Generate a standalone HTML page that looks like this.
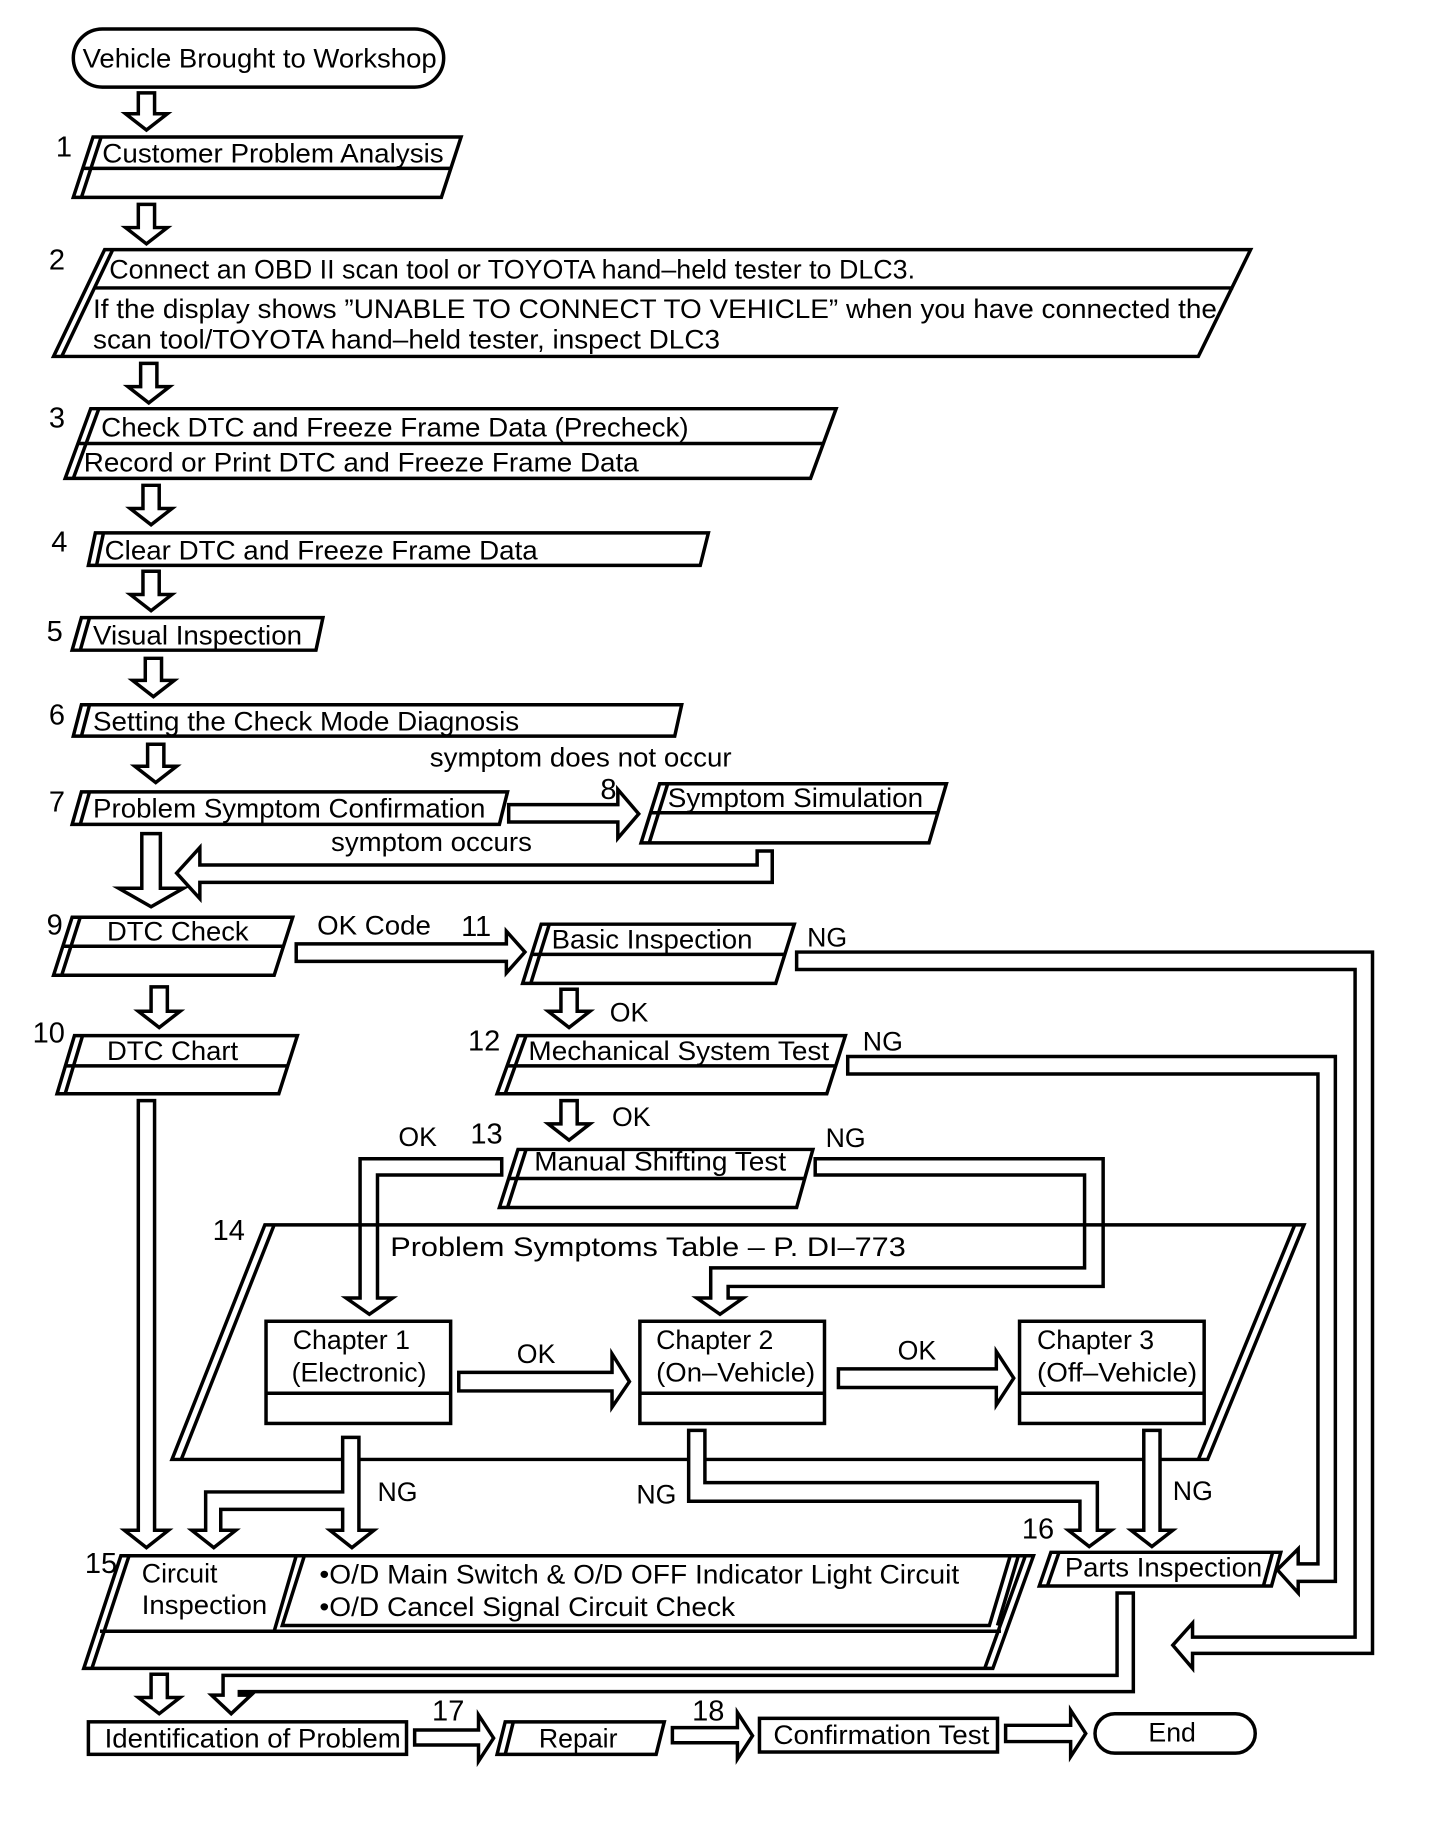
<!DOCTYPE html>
<html><head><meta charset="utf-8"><style>
html,body{margin:0;padding:0;background:#fff}
svg{display:block}
text{font-family:"Liberation Sans",sans-serif;font-size:23px;fill:#000}
.n{font-size:25px}
.s{fill:#fff;stroke:#000;stroke-width:3;stroke-linejoin:miter}
.l{fill:none;stroke:#000;stroke-width:3}
</style></head><body>
<svg width="1440" height="1824" viewBox="0 0 1240 1571" xmlns="http://www.w3.org/2000/svg">
<rect width="1240" height="1571" fill="#fff"/>
<rect class="s" x="63" y="25" width="319" height="50" rx="25"/>
<text x="71" y="58" textLength="305" lengthAdjust="spacingAndGlyphs">Vehicle Brought to Workshop</text>
<polygon class="s" points="119,80 133,80 133,98 144,98 126,112 108,98 119,98"/>
<text class="n" x="48" y="135">1</text>
<polygon class="s" points="80,118 397,118 380,170 63,170"/>
<line class="l" x1="87" y1="118" x2="70" y2="170"/>
<line class="l" x1="72" y1="145" x2="388" y2="145"/>
<text x="88" y="140" textLength="294" lengthAdjust="spacingAndGlyphs">Customer Problem Analysis</text>
<polygon class="s" points="119,176 133,176 133,196 144,196 126,210 108,196 119,196"/>
<text class="n" x="42" y="232">2</text>
<polygon class="s" points="90,215 1077,215 1032,307 46,307"/>
<line class="l" x1="97" y1="215" x2="53" y2="307"/>
<line class="l" x1="82" y1="248" x2="1062" y2="248"/>
<text x="94" y="240" textLength="694" lengthAdjust="spacingAndGlyphs">Connect an OBD II scan tool or TOYOTA hand–held tester to DLC3.</text>
<text x="80" y="274" textLength="968" lengthAdjust="spacingAndGlyphs">If the display shows ”UNABLE TO CONNECT TO VEHICLE” when you have connected the</text>
<text x="80" y="300" textLength="540" lengthAdjust="spacingAndGlyphs">scan tool/TOYOTA hand–held tester, inspect DLC3</text>
<polygon class="s" points="121,313 135,313 135,333 146,333 128,347 110,333 121,333"/>
<text class="n" x="42" y="368">3</text>
<polygon class="s" points="78,352 720,352 698,412 56,412"/>
<line class="l" x1="85" y1="352" x2="63" y2="412"/>
<line class="l" x1="68" y1="382" x2="709" y2="382"/>
<text x="87" y="376" textLength="506" lengthAdjust="spacingAndGlyphs">Check DTC and Freeze Frame Data (Precheck)</text>
<text x="72" y="406" textLength="478" lengthAdjust="spacingAndGlyphs">Record or Print DTC and Freeze Frame Data</text>
<polygon class="s" points="123,418 137,418 137,438 148,438 130,452 112,438 123,438"/>
<text class="n" x="44" y="475">4</text>
<polygon class="s" points="82,459 610,459 603,487 76,487"/>
<line class="l" x1="89" y1="459" x2="83" y2="487"/>
<text x="90" y="482" textLength="373" lengthAdjust="spacingAndGlyphs">Clear DTC and Freeze Frame Data</text>
<polygon class="s" points="123,492 137,492 137,512 148,512 130,526 112,512 123,512"/>
<text class="n" x="40" y="552">5</text>
<polygon class="s" points="70,532 278,532 272,560 62,560"/>
<line class="l" x1="77" y1="532" x2="69" y2="560"/>
<text x="80" y="555" textLength="180" lengthAdjust="spacingAndGlyphs">Visual Inspection</text>
<polygon class="s" points="125,567 139,567 139,586 150,586 132,600 114,586 125,586"/>
<text class="n" x="42" y="624">6</text>
<polygon class="s" points="70,607 587,607 581,634 63,634"/>
<line class="l" x1="77" y1="607" x2="70" y2="634"/>
<text x="80" y="629" textLength="367" lengthAdjust="spacingAndGlyphs">Setting the Check Mode Diagnosis</text>
<polygon class="s" points="127,641 141,641 141,660 152,660 134,674 116,660 127,660"/>
<text x="370" y="660" textLength="260" lengthAdjust="spacingAndGlyphs">symptom does not occur</text>
<text class="n" x="42" y="699">7</text>
<polygon class="s" points="70,682 437,682 430,710 62,710"/>
<line class="l" x1="77" y1="682" x2="69" y2="710"/>
<text x="80" y="704" textLength="338" lengthAdjust="spacingAndGlyphs">Problem Symptom Confirmation</text>
<polygon class="s" points="438,693 532,693 532,680 550,701 532,722 532,708 438,708"/>
<text class="n" x="517" y="688">8</text>
<polygon class="s" points="568,675 815,675 800,726 552,726"/>
<line class="l" x1="575" y1="675" x2="559" y2="726"/>
<line class="l" x1="561" y1="700" x2="808" y2="700"/>
<text x="575" y="695" textLength="220" lengthAdjust="spacingAndGlyphs">Symptom Simulation</text>
<text x="285" y="733" textLength="173" lengthAdjust="spacingAndGlyphs">symptom occurs</text>
<polygon class="s" points="652,733 665,733 665,760 172,760 172,774 152,752 172,730 172,745 652,745"/>
<polygon class="s" points="122,718 138,718 138,765 158,765 130,781 102,765 122,765"/>
<text class="n" x="40" y="805">9</text>
<polygon class="s" points="62,790 252,790 236,840 46,840"/>
<line class="l" x1="69" y1="790" x2="53" y2="840"/>
<line class="l" x1="54" y1="815" x2="244" y2="815"/>
<text x="92" y="810" textLength="122" lengthAdjust="spacingAndGlyphs">DTC Check</text>
<text x="273" y="805" textLength="98" lengthAdjust="spacingAndGlyphs">OK Code</text>
<text class="n" x="397" y="806">11</text>
<polygon class="s" points="255,813 436,813 436,802 452,820 436,838 436,828 255,828"/>
<polygon class="s" points="466,796 684,796 668,847 450,847"/>
<line class="l" x1="473" y1="796" x2="457" y2="847"/>
<line class="l" x1="458" y1="822" x2="676" y2="822"/>
<text x="475" y="817" textLength="173" lengthAdjust="spacingAndGlyphs">Basic Inspection</text>
<text x="695" y="815">NG</text>
<polygon class="s" points="686,820 1182,820 1182,1424 1027,1424 1027,1437 1010,1417 1027,1398 1027,1410 1167,1410 1167,835 686,835"/>
<polygon class="s" points="483,852 497,852 497,871 508,871 490,885 472,871 483,871"/>
<text x="525" y="880">OK</text>
<polygon class="s" points="130,850 144,850 144,871 155,871 137,885 119,871 130,871"/>
<text class="n" x="28" y="898">10</text>
<polygon class="s" points="64,892 256,892 240,942 49,942"/>
<line class="l" x1="71" y1="892" x2="56" y2="942"/>
<line class="l" x1="57" y1="918" x2="248" y2="918"/>
<text x="92" y="913" textLength="113" lengthAdjust="spacingAndGlyphs">DTC Chart</text>
<text class="n" x="403" y="905">12</text>
<polygon class="s" points="446,892 728,892 712,942 428,942"/>
<line class="l" x1="453" y1="892" x2="435" y2="942"/>
<line class="l" x1="437" y1="918" x2="720" y2="918"/>
<text x="455" y="913" textLength="259" lengthAdjust="spacingAndGlyphs">Mechanical System Test</text>
<text x="743" y="905">NG</text>
<polygon class="s" points="730,910 1150,910 1150,1362 1118,1362 1118,1372 1100,1352 1118,1334 1118,1347 1135,1347 1135,925 730,925"/>
<polygon class="s" points="483,948 497,948 497,968 508,968 490,982 472,968 483,968"/>
<text x="527" y="970">OK</text>
<text x="343" y="987">OK</text>
<text class="n" x="405" y="985">13</text>
<polygon class="s" points="446,990 700,990 686,1040 430,1040"/>
<line class="l" x1="453" y1="990" x2="437" y2="1040"/>
<line class="l" x1="438" y1="1015" x2="693" y2="1015"/>
<text x="460" y="1008" textLength="217" lengthAdjust="spacingAndGlyphs">Manual Shifting Test</text>
<text x="711" y="988">NG</text>
<polygon class="s" points="432,998 310,998 310,1118 298,1118 318,1132 338,1118 325,1118 325,1012 432,1012"/>
<polygon class="s" points="702,998 950,998 950,1108 627,1108 627,1118 640,1118 620,1132 600,1118 612,1118 612,1092 934,1092 934,1012 702,1012"/>
<text class="n" x="183" y="1068">14</text>
<polygon class="l" points="228,1055 1123,1055 1040,1257 148,1257"/>
<line class="l" x1="236" y1="1055" x2="156" y2="1257"/>
<line class="l" x1="1115" y1="1055" x2="1032" y2="1257"/>
<text x="336" y="1082" font-size="25" textLength="444" lengthAdjust="spacingAndGlyphs">Problem Symptoms Table – P. DI–773</text>
<rect class="s" x="229" y="1138" width="159" height="88"/>
<line class="l" x1="229" y1="1200" x2="388" y2="1200"/>
<text x="252" y="1162">Chapter 1</text>
<text x="251" y="1190">(Electronic)</text>
<rect class="s" x="551" y="1138" width="159" height="88"/>
<line class="l" x1="551" y1="1200" x2="710" y2="1200"/>
<text x="565" y="1162">Chapter 2</text>
<text x="565" y="1190" textLength="137" lengthAdjust="spacingAndGlyphs">(On–Vehicle)</text>
<rect class="s" x="878" y="1138" width="159" height="88"/>
<line class="l" x1="878" y1="1200" x2="1037" y2="1200"/>
<text x="893" y="1162">Chapter 3</text>
<text x="893" y="1190" textLength="138" lengthAdjust="spacingAndGlyphs">(Off–Vehicle)</text>
<text x="445" y="1174">OK</text>
<polygon class="s" points="395,1182 527,1182 527,1166 542,1190 527,1212 527,1198 395,1198"/>
<text x="773" y="1171">OK</text>
<polygon class="s" points="722,1179 858,1179 858,1164 873,1187 858,1210 858,1195 722,1195"/>
<polygon class="s" points="295,1238 295,1285 177,1285 177,1318 165,1318 184,1333 203,1318 190,1318 190,1300 295,1300 295,1318 284,1318 303,1333 322,1318 309,1318 309,1238"/>
<text x="325" y="1293">NG</text>
<polygon class="s" points="593,1232 593,1293 930,1293 930,1318 920,1318 938,1332 957,1318 945,1318 945,1277 607,1277 607,1232"/>
<text x="548" y="1295">NG</text>
<polygon class="s" points="985,1232 999,1232 999,1318 1010,1318 992,1332 974,1318 985,1318"/>
<text x="1010" y="1292">NG</text>
<text class="n" x="880" y="1325">16</text>
<polygon class="s" points="119,948 133,948 133,1318 145,1318 126,1333 107,1318 119,1318"/>
<text class="n" x="73" y="1355">15</text>
<polygon class="s" points="104,1340 890,1340 855,1437 72,1437"/>
<line class="l" x1="111" y1="1340" x2="79" y2="1437"/>
<line class="l" x1="883" y1="1340" x2="848" y2="1437"/>
<line class="l" x1="86" y1="1405" x2="862" y2="1405"/>
<polygon class="s" points="262,1340 870,1340 852,1400 243,1400"/>
<line class="l" x1="255" y1="1340" x2="236" y2="1405"/>
<line class="l" x1="877" y1="1340" x2="859" y2="1400"/>
<text x="122" y="1363">Circuit</text>
<text x="122" y="1390" textLength="108" lengthAdjust="spacingAndGlyphs">Inspection</text>
<text x="275" y="1364" textLength="551" lengthAdjust="spacingAndGlyphs">•O/D Main Switch &amp; O/D OFF Indicator Light Circuit</text>
<text x="275" y="1392" textLength="358" lengthAdjust="spacingAndGlyphs">•O/D Cancel Signal Circuit Check</text>
<polygon class="s" points="905,1337 1103,1337 1095,1366 895,1366"/>
<line class="l" x1="912" y1="1337" x2="902" y2="1366"/>
<line class="l" x1="1096" y1="1337" x2="1088" y2="1366"/>
<text x="917" y="1358" textLength="170" lengthAdjust="spacingAndGlyphs">Parts Inspection</text>
<polygon class="s" points="962,1372 962,1443 192,1443 192,1460 182,1460 199,1476 216,1460 206,1460 206,1457 976,1457 976,1372"/>
<polygon class="s" points="130,1442 144,1442 144,1462 155,1462 137,1476 119,1462 130,1462"/>
<rect class="s" x="76" y="1483" width="274" height="28"/>
<text x="90" y="1505" textLength="255" lengthAdjust="spacingAndGlyphs">Identification of Problem</text>
<text class="n" x="372" y="1482">17</text>
<polygon class="s" points="357,1490 412,1490 412,1477 425,1497 412,1517 412,1503 357,1503"/>
<polygon class="s" points="435,1483 572,1483 565,1511 428,1511"/>
<line class="l" x1="442" y1="1483" x2="435" y2="1511"/>
<text x="464" y="1505">Repair</text>
<text class="n" x="596" y="1482">18</text>
<polygon class="s" points="579,1488 635,1488 635,1475 648,1495 635,1515 635,1501 579,1501"/>
<rect class="s" x="654" y="1480" width="205" height="29"/>
<text x="666" y="1502" textLength="186" lengthAdjust="spacingAndGlyphs">Confirmation Test</text>
<polygon class="s" points="866,1486 922,1486 922,1473 935,1493 922,1513 922,1500 866,1500"/>
<rect class="s" x="943" y="1476" width="138" height="34" rx="17"/>
<text x="989" y="1500">End</text>
</svg>
</body></html>
